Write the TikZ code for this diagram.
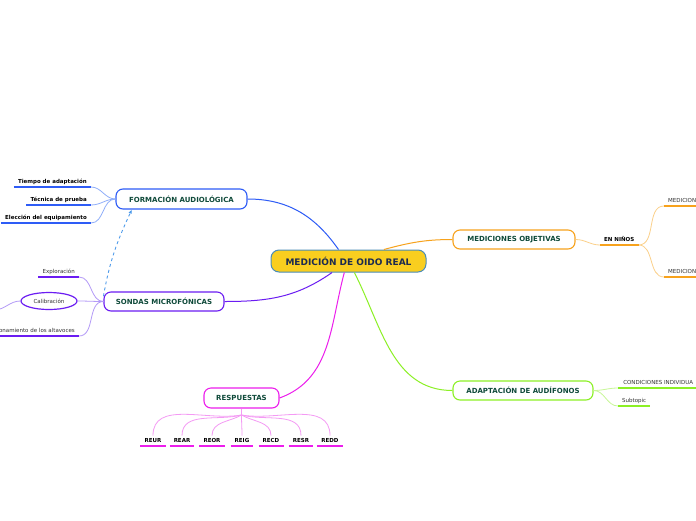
\documentclass[tikz,border=0pt]{standalone}
\usepackage{fontspec}
\setmainfont{DejaVu Sans}
\usepackage{tikz}
\usetikzlibrary{arrows.meta,shapes.geometric}
\definecolor{Navy}{HTML}{1C2B4F}
\definecolor{Pine}{HTML}{0F4A3A}
\definecolor{Char}{HTML}{333333}
\definecolor{Gold}{HTML}{F9CE1F}
\definecolor{Steel}{HTML}{4A8CB8}
\definecolor{BlueBr}{HTML}{2E5CF6}
\definecolor{BlueLt}{HTML}{8FAEF9}
\definecolor{Sky}{HTML}{4E9BEB}
\definecolor{VioletBr}{HTML}{6B1CF2}
\definecolor{VioletLt}{HTML}{B49BF7}
\definecolor{OrangeBr}{HTML}{F7A21C}
\definecolor{OrangeLt}{HTML}{FBD08A}
\definecolor{GreenBr}{HTML}{8CF025}
\definecolor{GreenLt}{HTML}{C8F798}
\definecolor{PinkBr}{HTML}{EC1EEC}
\definecolor{PinkLt}{HTML}{F49AF4}
\tikzset{
  >={Latex[length=4pt,width=3.5pt]},
  root/.style={rectangle,rounded corners=8pt,fill=Gold,draw=Steel,line width=1pt,minimum width=155pt,minimum height=22pt,inner sep=0pt,font=\fontsize{9}{10}\bfseries\selectfont,text=Navy},
  topic/.style={rectangle,rounded corners=7pt,fill=white,line width=1.1pt,minimum height=19pt,inner sep=0pt,font=\fontsize{7}{8}\bfseries\selectfont,text=Pine},
  leaf/.style={font=\fontsize{5.5}{6}\selectfont,text=Char,inner xsep=4pt,inner ysep=2.5pt,text height=4pt,text depth=1pt},
  bleaf/.style={leaf,font=\fontsize{5.5}{6}\bfseries\selectfont,text=black},
  oval/.style={ellipse,draw=VioletBr,line width=1.2pt,fill=white,minimum width=56pt,minimum height=17pt,inner sep=0pt,font=\fontsize{5.5}{6}\selectfont,text=Char},
  link/.style={line width=1pt},
  twig/.style={line width=.8pt},
  ul/.style={line width=1.6pt},
  jump/.style={->,dashed,draw=Sky,line width=.9pt}
}
\begin{document}
\begin{tikzpicture}[x=1pt,y=1pt]
  \clip (0,0) rectangle (696,-520);
  \fill[white] (0,0) rectangle (696,-520);
  \node[root] (ctr) at (348.5,-261) {MEDICIÓN DE OIDO REAL};
  \node[topic,draw=BlueBr,minimum width=131pt,minimum height=20pt] (form) at (181.5,-199) {FORMACIÓN AUDIOLÓGICA};
  \node[topic,draw=VioletBr,minimum width=120pt] (sonda) at (164,-301.5) {SONDAS MICROFÓNICAS};
  \node[topic,draw=OrangeBr,minimum width=122pt] (obj) at (514,-239.5) {MEDICIONES OBJETIVAS};
  \node[topic,draw=GreenBr,minimum width=140pt] (adap) at (523,-390.5) {ADAPTACIÓN DE AUDÍFONOS};
  \node[topic,draw=PinkBr,minimum width=75pt,minimum height=20pt] (resp) at (241.5,-398) {RESPUESTAS};
  \draw[link,BlueBr] (ctr.131) to[out=125,in=0] (form.east);
  \draw[link,VioletBr] (ctr.215) to[out=215,in=0] (sonda.east);
  \draw[link,OrangeBr] (ctr.18) to[out=15,in=180] (obj.west);
  \draw[link,GreenBr] (ctr.297) to[out=-63,in=180] (adap.west);
  \draw[link,PinkBr] (ctr.250) to[out=255,in=20] (resp.east);
  \node[bleaf,anchor=south east] (tiem) at (91,-187) {Tiempo de adaptación};
  \node[bleaf,anchor=south east] (tecn) at (91,-205) {Técnica de prueba};
  \node[bleaf,anchor=south east] (elec) at (91,-223) {Elección del equipamiento};
  \foreach \nm in {tiem,tecn,elec} {
    \draw[twig,BlueLt] (form.west) to[out=180,in=0] (\nm.south east);
    \draw[ul,BlueBr] (\nm.south west) -- (\nm.south east);
  }
  \node[leaf,anchor=south east] (expl) at (79,-277) {Exploración};
  \node[oval] (calib) at (49,-301) {Calibración};
  \node[leaf,anchor=south east] (posi) at (79,-336) {onamiento de los altavoces};
  \coordinate (calx) at (-6,-310);
  \draw[twig,VioletLt] (sonda.west) to[out=180,in=0] (expl.south east);
  \draw[twig,VioletLt] (sonda.west) to[out=180,in=0] (calib.east);
  \draw[twig,VioletLt] (sonda.west) to[out=180,in=0] (posi.south east);
  \draw[twig,VioletLt] (calib.west) to[out=180,in=0] (calx);
  \draw[ul,VioletBr] (expl.south west) -- (expl.south east);
  \draw[ul,VioletBr] (posi.south west) -- (posi.south east);
  \draw[jump] (sonda.175) to[out=80,in=245] (form.192);
  \node[bleaf,anchor=south west] (nino) at (600,-245) {EN NIÑOS};
  \node[leaf,anchor=south west] (med1) at (664,-206) {MEDICION};
  \node[leaf,anchor=south west] (med2) at (664,-277) {MEDICION};
  \draw[twig,OrangeLt] (obj.east) to[out=0,in=180] (nino.south west);
  \draw[twig,OrangeLt] (nino.south east) to[out=0,in=180] (med1.south west);
  \draw[twig,OrangeLt] (nino.south east) to[out=0,in=180] (med2.south west);
  \foreach \nm in {nino,med1,med2} \draw[ul,OrangeBr] (\nm.south west) -- (\nm.south east);
  \node[leaf,anchor=south west,minimum width=80pt,align=left] (cond) at (618,-388) {CONDICIONES INDIVIDUA};
  \node[leaf,anchor=south west] (subt) at (618,-406) {Subtopic};
  \draw[twig,GreenLt] (adap.east) to[out=0,in=180] (cond.south west);
  \draw[twig,GreenLt] (adap.east) to[out=0,in=180] (subt.south west);
  \foreach \nm in {cond,subt} \draw[ul,GreenBr] (\nm.south west) -- (\nm.south east);
  \coordinate (stem) at (241.5,-415);
  \draw[twig,PinkLt] (resp.south) -- (stem);
  \foreach \nm/\xx/\ang in {REUR/153/190,REAR/182/195,REOR/212/210,REIG/242/270,RECD/271/330,RESR/301/345,REDD/330/350} {
    \node[bleaf,anchor=south] (\nm) at (\xx,-446) {\nm};
    \draw[twig,PinkLt] (stem) to[out=\ang,in=90] (\nm.north);
    \draw[ul,PinkBr] (\nm.south west) -- (\nm.south east);
  }
\end{tikzpicture}
\end{document}
